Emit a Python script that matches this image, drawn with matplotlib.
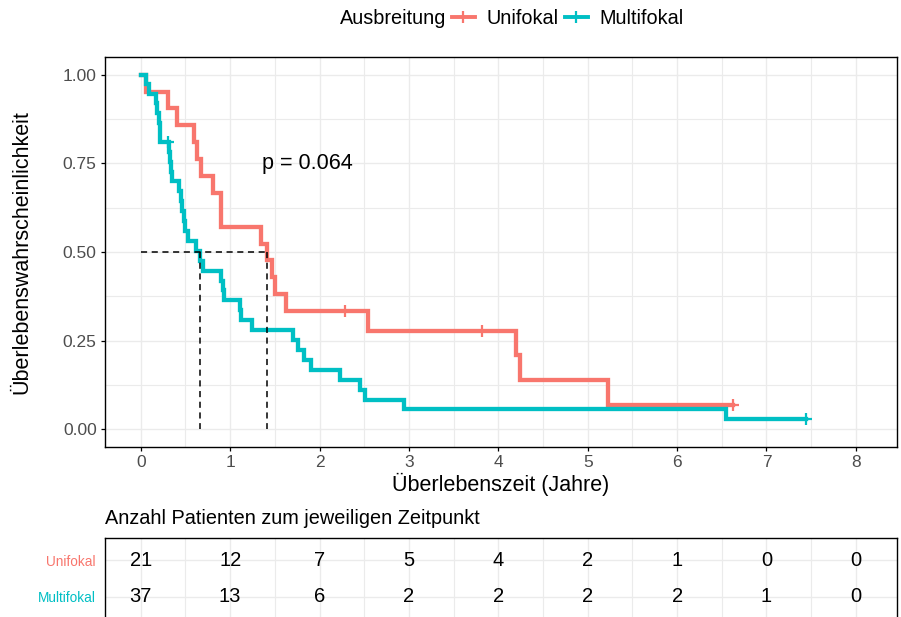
import numpy as np
import matplotlib
matplotlib.use("Agg")
import matplotlib.pyplot as plt
from matplotlib.lines import Line2D
from matplotlib.ticker import MultipleLocator

plt.rcParams['font.family'] = ['Liberation Sans', 'DejaVu Sans']

# follow-up time (years) and status (1 = death, 0 = censored)
uni_time = [0.06, 0.30, 0.41, 0.60, 0.63, 0.67, 0.81, 0.90, 0.90, 1.35, 1.41,
            1.47, 1.50, 1.63, 2.28, 2.54, 3.82, 4.20, 4.24, 5.23, 6.62]
uni_status = [1, 1, 1, 1, 1, 1, 1, 1, 1, 1, 1,
              1, 1, 1, 0, 1, 0, 1, 1, 1, 0]

multi_time = [0.06, 0.09, 0.17, 0.18, 0.20, 0.21, 0.22, 0.30,
              0.32, 0.33, 0.34, 0.35, 0.43, 0.45, 0.46, 0.48, 0.50, 0.53,
              0.62, 0.66, 0.70, 0.90, 0.92, 0.93,
              1.11, 1.12, 1.24, 1.70, 1.76, 1.83, 1.91,
              2.23, 2.45, 2.51, 2.95, 6.55, 7.44]
multi_status = [1, 1, 1, 1, 1, 1, 1, 0,
                1, 1, 1, 1, 1, 1, 1, 1, 1, 1,
                1, 1, 1, 1, 1, 1,
                1, 1, 1, 1, 1, 1, 1,
                1, 1, 1, 1, 1, 0]

groups = ['Unifokal', 'Multifokal']
colors = ['#F8766D', '#00BFC4']

# numbers at risk table
risk_times = [0, 1, 2, 3, 4, 5, 6, 7, 8]
risk_uni = [21, 12, 7, 5, 4, 2, 1, 0, 0]
risk_multi = [37, 13, 6, 2, 2, 2, 2, 1, 0]
p_text = 'p = 0.064'


def kaplan_meier(time, status):
    time = np.asarray(time, float)
    status = np.asarray(status, int)
    order = np.argsort(time, kind='stable')
    time, status = time[order], status[order]
    ts, ss = [0.0], [1.0]
    cens_t, cens_s = [], []
    s = 1.0
    for t in np.unique(time):
        at_risk = np.sum(time >= t)
        d = np.sum((time == t) & (status == 1))
        c = np.sum((time == t) & (status == 0))
        if d > 0:
            s *= (at_risk - d) / at_risk
            ts.append(t)
            ss.append(s)
        if c > 0:
            cens_t.append(t)
            cens_s.append(s)
    if time.max() > ts[-1]:
        ts.append(time.max())
        ss.append(s)
    return np.array(ts), np.array(ss), cens_t, cens_s


def median_time(ts, ss):
    idx = np.where(ss <= 0.5)[0]
    return ts[idx[0]] if len(idx) else np.nan


fig = plt.figure(figsize=(9.01, 6.17), dpi=100)
W, H = 901, 617
ax = fig.add_axes([105 / W, 1 - 447 / H, 792 / W, 390 / H])

medians = []
for time, status, col in [(uni_time, uni_status, colors[0]),
                          (multi_time, multi_status, colors[1])]:
    ts, ss, ct, cs = kaplan_meier(time, status)
    ax.step(ts, ss, where='post', color=col, lw=3.1, solid_joinstyle='miter', zorder=3)
    ax.plot(ct, cs, ls='none', marker='+', ms=8, mew=1.6, color=col, zorder=4)
    medians.append(median_time(ts, ss))

# median survival guides
dash = (0, (4, 3))
ax.plot([0, max(medians)], [0.5, 0.5], color='black', lw=1.1, ls=dash, zorder=5)
for m in medians:
    ax.plot([m, m], [0.5, 0], color='black', lw=1.1, ls=dash, zorder=5)

ax.text(1.36, 0.75, p_text, ha='left', va='center', fontsize=15.5, color='black')

ax.set_xlim(-0.4, 8.46)
ax.set_ylim(-0.05, 1.05)
ax.xaxis.set_major_locator(MultipleLocator(1))
ax.xaxis.set_minor_locator(MultipleLocator(0.5))
ax.set_yticks([0, 0.25, 0.5, 0.75, 1.0])
ax.set_yticklabels(['0.00', '0.25', '0.50', '0.75', '1.00'])
ax.yaxis.set_minor_locator(MultipleLocator(0.125))
ax.grid(which='major', color='#EBEBEB', lw=1.0, zorder=0)
ax.grid(which='minor', color='#EBEBEB', lw=0.8, zorder=0)
ax.set_axisbelow(True)
ax.tick_params(which='major', length=3, width=0.9, color='black',
               labelsize=12.5, labelcolor='#4D4D4D', pad=3)
ax.tick_params(which='minor', length=0)
for sp in ax.spines.values():
    sp.set_color('black')
    sp.set_linewidth(1.0)
ax.set_xlabel('Überlebenszeit (Jahre)', fontsize=15.5, labelpad=2)
ax.set_ylabel('Überlebenswahrscheinlichkeit', fontsize=15.5, labelpad=22)

# legend on top
fig.text(446 / W, 1 - 18 / H, 'Ausbreitung', ha='right', va='center', fontsize=14.3)
handles = [Line2D([], [], color=c, lw=2.8, marker='+', ms=9, mew=1.6) for c in colors]
fig.legend(handles, groups, loc='center left', bbox_to_anchor=(452 / W, 1 - 18 / H),
           ncol=2, frameon=False, fontsize=14.3, handlelength=1.15,
           handletextpad=0.6, columnspacing=0.3, borderpad=0, borderaxespad=0)

# risk table
fig.text(105 / W, 1 - 519 / H, 'Anzahl Patienten zum jeweiligen Zeitpunkt',
         ha='left', va='center', fontsize=14.3)
ax2 = fig.add_axes([105 / W, -2 / H, 792 / W, 81 / H])
ax2.set_xlim(ax.get_xlim())
ax2.set_ylim(0.4, 2.6)
for t, a, b in zip(risk_times, risk_uni, risk_multi):
    ax2.text(t, 2, str(a), ha='center', va='center', fontsize=14.5, color='black')
    ax2.text(t, 1, str(b), ha='center', va='center', fontsize=14.5, color='black')
ax2.set_yticks([2, 1])
ax2.set_yticklabels(groups)
for lbl, c in zip(ax2.get_yticklabels(), colors):
    lbl.set_color(c)
ax2.xaxis.set_major_locator(MultipleLocator(1))
ax2.xaxis.set_minor_locator(MultipleLocator(0.5))
ax2.grid(which='major', color='#EBEBEB', lw=1.0, zorder=0)
ax2.grid(which='minor', axis='x', color='#EBEBEB', lw=0.8, zorder=0)
ax2.set_axisbelow(True)
ax2.tick_params(axis='y', length=0, labelsize=9.8, pad=7)
ax2.tick_params(axis='x', which='both', length=0, labelbottom=False)
for sp in ax2.spines.values():
    sp.set_color('black')
    sp.set_linewidth(1.0)

fig.savefig('out.png', dpi=100)
